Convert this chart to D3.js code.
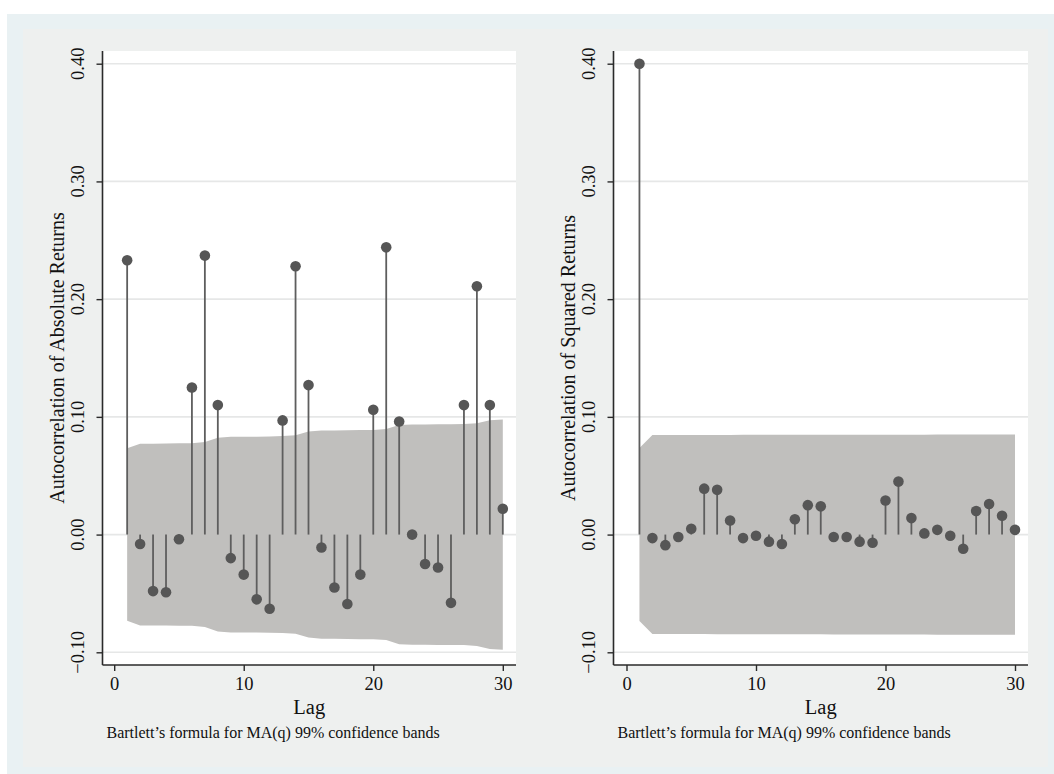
<!DOCTYPE html>
<html>
<head>
<meta charset="utf-8">
<script src="https://cdn.jsdelivr.net/npm/d3@7/dist/d3.min.js"></script>
<style>
  html, body { margin: 0; padding: 0; background: #ffffff; }
  svg { display: block; }
  text { font-family: "Liberation Serif", "Times New Roman", serif; fill: #111; }
</style>
</head>
<body>
<svg id="chart" width="1054" height="774"></svg>
<script>
// ---- data ----
const lags = [1,2,3,4,5,6,7,8,9,10,11,12,13,14,15,16,17,18,19,20,21,22,23,24,25,26,27,28,29,30];

const absAcf = [0.233,-0.008,-0.048,-0.049,-0.004,0.125,0.237,0.110,-0.020,-0.034,
                -0.055,-0.063,0.097,0.228,0.127,-0.011,-0.045,-0.059,-0.034,0.106,
                0.244,0.096,0.000,-0.025,-0.028,-0.058,0.110,0.211,0.110,0.022];
const absBand = [0.0733,0.0772,0.0772,0.0773,0.0775,0.0775,0.0786,0.0823,0.0831,0.0832,
                 0.0832,0.0834,0.0837,0.0843,0.0875,0.0885,0.0885,0.0886,0.0889,0.0889,
                 0.0896,0.0931,0.0936,0.0936,0.0937,0.0937,0.0939,0.0946,0.0971,0.0978];

const sqAcf = [0.400,-0.003,-0.009,-0.002,0.005,0.039,0.038,0.012,-0.003,-0.001,
               -0.006,-0.008,0.013,0.025,0.024,-0.002,-0.002,-0.006,-0.007,0.029,
               0.045,0.014,0.001,0.004,-0.001,-0.012,0.020,0.026,0.016,0.004];
const sqBand = [0.0735,0.0845,0.0845,0.0845,0.0845,0.0845,0.0846,0.0846,0.0847,0.0847,
                0.0847,0.0847,0.0847,0.0847,0.0847,0.0848,0.0848,0.0848,0.0848,0.0848,
                0.0848,0.0849,0.0849,0.0850,0.0850,0.0850,0.0850,0.0850,0.0850,0.0850];

const yTicks = [-0.10, 0.00, 0.10, 0.20, 0.30, 0.40];
const xTicks = [0, 10, 20, 30];
const yTitles = ["Autocorrelation of Absolute Returns", "Autocorrelation of Squared Returns"];
const xTitle = "Lag";
const noteText = "Bartlett\u2019s formula for MA(q) 99% confidence bands";

// ---- layout ----
const svg = d3.select("#chart");
svg.append("rect").attr("x", 7).attr("y", 14).attr("width", 1047).attr("height", 760).attr("fill", "#e9f1f3");
svg.append("rect").attr("x", 23).attr("y", 29).attr("width", 1025).attr("height", 738).attr("fill", "#eef0ef");

const plotTop = 51, plotBottom = 665;

function drawPanel(cfg) {
  const g = svg.append("g");
  const x = d3.scaleLinear().domain([0, 30]).range([cfg.x0, cfg.x30]);
  const y = d3.scaleLinear().domain([-0.10, 0.40]).range([652.3, 63.7]);

  // plot region
  g.append("rect").attr("x", cfg.left).attr("y", plotTop)
    .attr("width", cfg.right - cfg.left).attr("height", plotBottom - plotTop)
    .attr("fill", "#ffffff");

  // gridlines
  g.append("g").selectAll("line").data(yTicks).join("line")
    .attr("x1", cfg.left).attr("x2", cfg.right)
    .attr("y1", d => y(d)).attr("y2", d => y(d))
    .attr("stroke", "#e6e7e7").attr("stroke-width", 1.6);

  // confidence band
  const bandPts = lags.map((l, i) => [x(l), y(cfg.band[i])])
    .concat(lags.map((l, i) => [x(l), y(-cfg.band[i])]).reverse());
  g.append("path").attr("d", d3.line()(bandPts) + "Z")
    .attr("fill", "#c0bfbd").attr("stroke", "none");

  // stems
  g.append("g").selectAll("line").data(lags).join("line")
    .attr("x1", d => x(d)).attr("x2", d => x(d))
    .attr("y1", y(0)).attr("y2", (d, i) => y(cfg.acf[i]))
    .attr("stroke", "#5e5e5e").attr("stroke-width", 1.8);

  // markers
  g.append("g").selectAll("circle").data(lags).join("circle")
    .attr("cx", d => x(d)).attr("cy", (d, i) => y(cfg.acf[i]))
    .attr("r", 5.3).attr("fill", "#565656");

  // y axis
  const yAxis = d3.axisLeft(y).tickValues(yTicks).tickFormat(d3.format(".2f"))
    .tickSize(6).tickPadding(0);
  const ya = g.append("g").attr("transform", `translate(${cfg.left},0)`).call(yAxis);
  ya.select(".domain").remove();
  ya.selectAll(".tick line").attr("stroke", "#2a2a2a").attr("stroke-width", 1.4);
  ya.selectAll(".tick text").remove();
  g.append("g").selectAll("text").data(yTicks).join("text")
    .attr("transform", d => `translate(${cfg.left - 25},${y(d)}) rotate(-90)`)
    .attr("text-anchor", "middle").attr("dy", "0.35em")
    .style("font-size", "18.5px")
    .text(d => d3.format(".2f")(d));
  g.append("line").attr("x1", cfg.left).attr("x2", cfg.left)
    .attr("y1", plotTop).attr("y2", plotBottom)
    .attr("stroke", "#2a2a2a").attr("stroke-width", 1.6);

  // x axis
  const xAxis = d3.axisBottom(x).tickValues(xTicks).tickFormat(d3.format("d"))
    .tickSize(6).tickPadding(6);
  const xa = g.append("g").attr("transform", `translate(0,${plotBottom})`).call(xAxis);
  xa.select(".domain").remove();
  xa.selectAll(".tick line").attr("stroke", "#2a2a2a").attr("stroke-width", 1.4);
  xa.selectAll(".tick text").attr("fill", "#111")
    .style("font-family", "'Liberation Serif', 'Times New Roman', serif")
    .style("font-size", "18.5px").attr("dy", "0.71em");
  g.append("line").attr("x1", cfg.left).attr("x2", cfg.right)
    .attr("y1", plotBottom).attr("y2", plotBottom)
    .attr("stroke", "#2a2a2a").attr("stroke-width", 1.6);

  // titles
  g.append("text")
    .attr("transform", `translate(${cfg.left - 46},${(plotTop + plotBottom) / 2}) rotate(-90)`)
    .attr("text-anchor", "middle").attr("dy", "0.35em")
    .style("font-size", "20px").text(cfg.yTitle);
  g.append("text").attr("x", (cfg.left + cfg.right) / 2).attr("y", 714)
    .attr("text-anchor", "middle").style("font-size", "20.5px").text(xTitle);
  g.append("text").attr("x", cfg.left + 4).attr("y", 738)
    .style("font-size", "16px").text(noteText);
}

drawPanel({ left: 102.5, right: 516, x0: 114.2, x30: 502.8,
            acf: absAcf, band: absBand, yTitle: yTitles[0] });
drawPanel({ left: 613.5, right: 1028, x0: 626.5, x30: 1015,
            acf: sqAcf, band: sqBand, yTitle: yTitles[1] });
</script>
</body>
</html>
